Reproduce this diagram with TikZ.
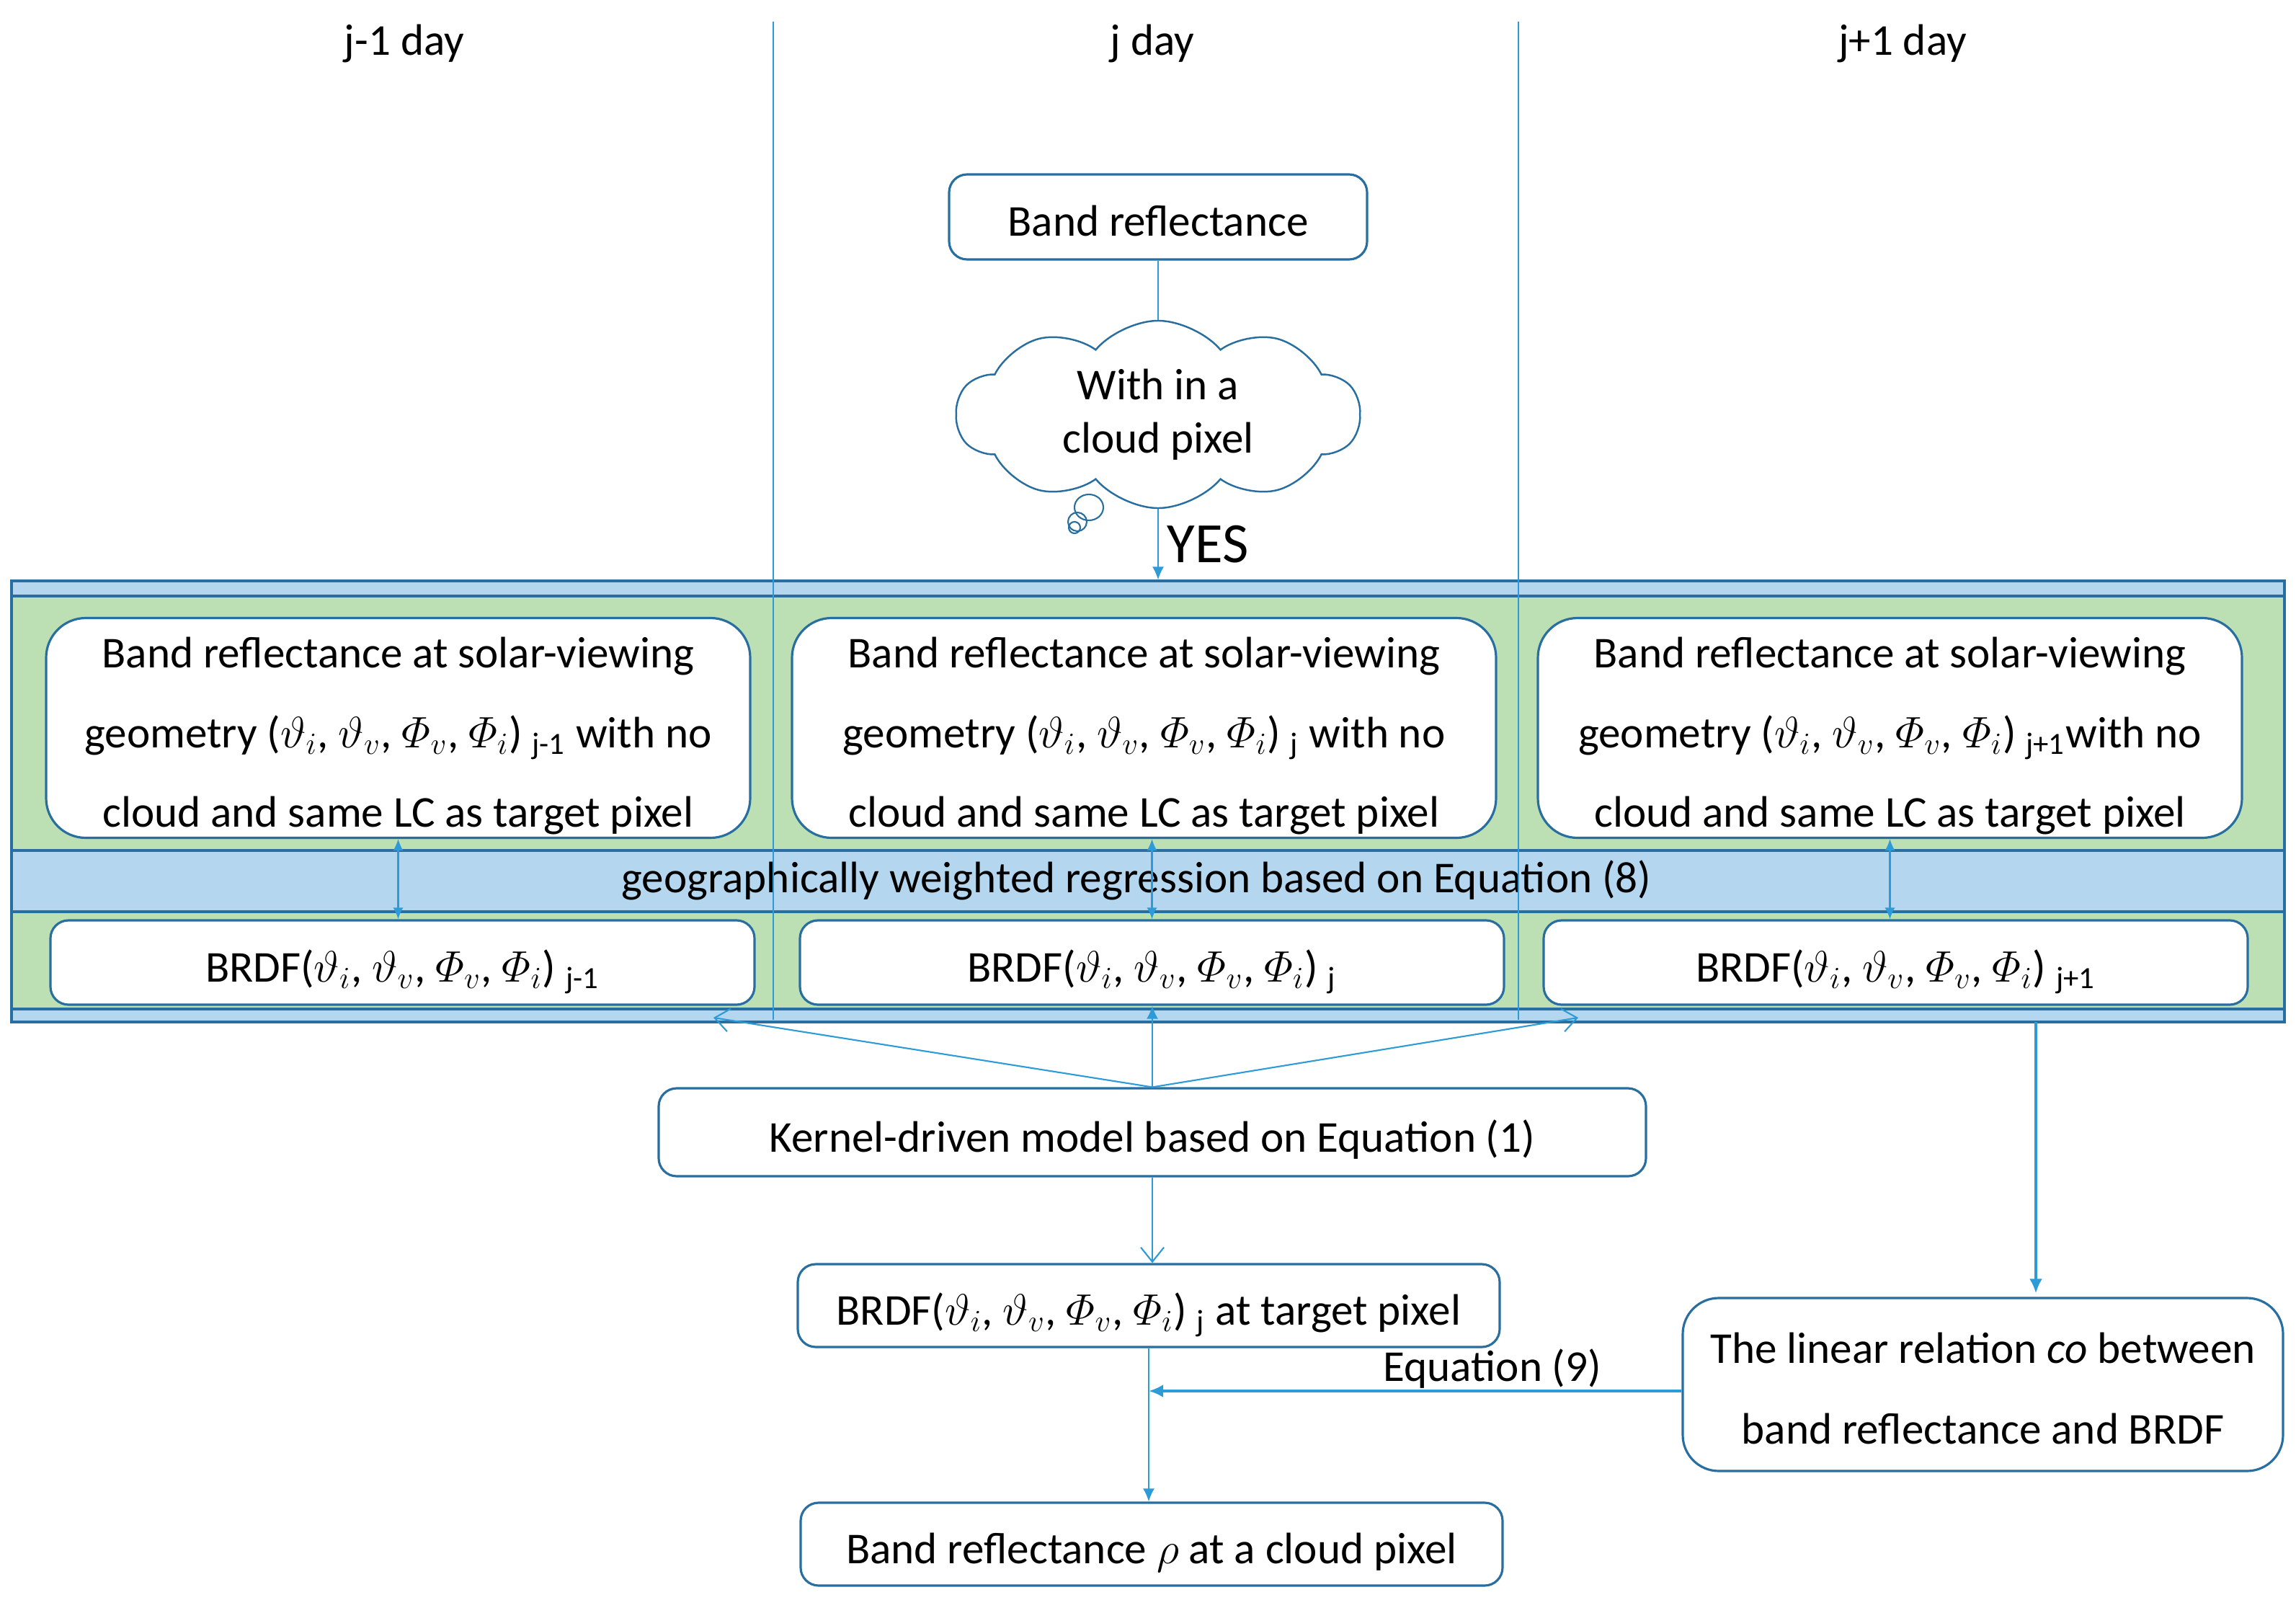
\documentclass[tikz,border=0pt]{standalone}
\usepackage{fix-cm}
\usepackage{amsmath}
\usepackage{fontspec}
\setmainfont{Carlito}
\usepackage{tikz}
\usetikzlibrary{shapes.symbols, arrows.meta}
\definecolor{boxline}{RGB}{40,110,160}
\definecolor{conn}{RGB}{45,155,215}
\definecolor{stripblue}{RGB}{180,214,238}
\definecolor{rowgreen}{RGB}{188,224,180}
\newcommand{\angs}{($\vartheta_i$, $\vartheta_v$, $\varPhi_v$, $\varPhi_i$)}
\newcommand{\lift}[1]{\rule{0pt}{#1}}
\tikzstyle{dayhead} = [rectangle, inner sep=0pt, text centered]
\tikzstyle{bluestrip} =
[rectangle, minimum width=31.54cm, draw=boxline, line width=0.9pt, fill=stripblue]
\tikzstyle{greenrow} =
[rectangle, minimum width=31.54cm, draw=boxline, line width=0.9pt, fill=rowgreen]
\tikzstyle{process} =
[rectangle, rounded corners=0.25cm, minimum height=1.17cm, text centered,
text height=0.70cm, text depth=0.16cm, draw=boxline, line width=0.9pt, fill=white]
\tikzstyle{obsbox} =
[rectangle, rounded corners=0.55cm, minimum width=9.77cm, minimum height=3.05cm,
inner ysep=0pt, align=center, draw=boxline, line width=0.9pt, fill=white,
font=\fontsize{17.4}{31.5}\selectfont]
\tikzstyle{relbox} =
[rectangle, rounded corners=0.5cm, minimum width=8.33cm, minimum height=2.40cm,
align=center, draw=boxline, line width=0.9pt, fill=white,
font=\fontsize{17.4}{31.8}\selectfont]
\tikzstyle{thought} =
[cloud, cloud puffs=10, cloud puff arc=100, cloud ignores aspect, minimum width=5.6cm,
minimum height=2.0cm, align=center, draw=boxline, line width=0.7pt, fill=white]
\tikzstyle{daysep} = [draw=conn, line width=0.5pt]
\tikzstyle{line} = [draw=conn, line width=0.6pt, -{Latex[length=0.18cm, width=0.16cm]}]
\tikzstyle{barb} = [draw=conn, line width=0.6pt, -{Straight Barb[length=0.2cm, width=0.32cm]}]
\tikzstyle{twoway} = [draw=conn, line width=0.6pt,
{Latex[length=0.16cm, width=0.14cm]}-{Latex[length=0.16cm, width=0.14cm]}]
\tikzstyle{heavy} = [draw=conn, line width=1.1pt, -{Latex[length=0.2cm, width=0.18cm]}]
\begin{document}
\begin{tikzpicture}[font=\fontsize{17.4}{21}\selectfont]
  \useasboundingbox (0,0) rectangle (31.86,-22.20);
  % day headers
  \node [dayhead] (dayM) at (15.99,-0.61) {j day};
  \node [dayhead, left of=dayM, node distance=10.38cm] (dayL) {j-1 day};
  \node [dayhead, right of=dayM, node distance=10.41cm] (dayR) {j+1 day};
  % band of the three days
  \node [bluestrip, minimum height=6.12cm] (band) at (15.93,-11.12) {};
  \node [greenrow, minimum height=3.53cm] (rowtop) at (15.93,-10.035) {};
  \node [greenrow, minimum height=1.35cm] (rowbot) at (15.93,-13.325) {};
  \node (gwr) at (15.77,-12.21)
   {geographically weighted regression based on Equation (8)};
  % day separators
  \coordinate (sepA) at (10.73,-0.30);
  \coordinate (sepB) at (21.07,-0.30);
  \path [daysep] (sepA) -- ([yshift=0.05cm]sepA |- band.south);
  \path [daysep] (sepB) -- ([yshift=0.05cm]sepB |- band.south);
  % input on day j
  \node [process, minimum width=5.80cm, minimum height=1.18cm] (br)
   at (16.07,-3.01) {Band reflectance};
  \node [thought, below of=br, node distance=2.74cm] (cloud)
   {With in a\\ cloud pixel};
  \draw [boxline, line width=0.6pt] (15.11,-7.04) ellipse (0.20cm and 0.18cm);
  \draw [boxline, line width=0.6pt] (14.95,-7.24) circle (0.13cm);
  \draw [boxline, line width=0.6pt] (14.91,-7.32) circle (0.08cm);
  \path [draw=conn, line width=0.6pt] (br) -- (cloud);
  \path [line] (cloud.south) -- node [right, pos=0.5, font=\fontsize{22.5}{27}\selectfont]
   (yes) {YES} (cloud.south |- band.north);
  % 1st row nodes
  \node [obsbox] (obsM) at (15.875,-10.10)
   {\lift{0.65cm}Band reflectance at solar-viewing\\
    geometry \angs{} $_{\text{j}}$ with no\\ cloud and same LC as target pixel};
  \node [obsbox, left of=obsM, node distance=10.35cm] (obsL)
   {\lift{0.65cm}Band reflectance at solar-viewing\\
    geometry \angs{} $_{\text{j-1}}$ with no\\ cloud and same LC as target pixel};
  \node [obsbox, right of=obsM, node distance=10.35cm] (obsR)
   {\lift{0.65cm}Band reflectance at solar-viewing\\
    geometry \angs{} $_{\text{j+1}}$with no\\ cloud and same LC as target pixel};
  % 2nd row nodes
  \node [process, minimum width=9.77cm] (brdfM) at (15.985,-13.355)
   {BRDF\angs{} $_{\text{j}}$};
  \node [process, minimum width=9.77cm, left of=brdfM, node distance=10.40cm] (brdfL)
   {BRDF\angs{} $_{\text{j-1}}$};
  \node [process, minimum width=9.77cm, right of=brdfM, node distance=10.32cm] (brdfR)
   {BRDF\angs{} $_{\text{j+1}}$};
  % regression edges
  \path [twoway] (obsL.south) -- (obsL.south |- brdfL.north);
  \path [twoway] (brdfM.north |- obsM.south) -- (brdfM.north);
  \path [twoway] (obsR.south) -- (obsR.south |- brdfR.north);
  % kernel model
  \node [process, minimum width=13.70cm, minimum height=1.22cm] (kernel)
   at (15.99,-15.71) {Kernel-driven model based on Equation (1)};
  \coordinate (tipL) at (9.90,-14.12);
  \coordinate (tipR) at (21.90,-14.12);
  \path [barb] (kernel.north) -- (tipL);
  \path [line] (kernel.north) -- (kernel.north |- brdfM.south);
  \path [barb] (kernel.north) -- (tipR);
  % output nodes
  \node [process, minimum width=9.74cm, minimum height=1.15cm] (target)
   at (15.94,-18.115) {BRDF\angs{} $_{\text{j}}$ at target pixel};
  \node [process, minimum width=9.74cm, minimum height=1.15cm] (rho)
   at (15.98,-21.425) {Band reflectance $\rho$ at a cloud pixel};
  \node [relbox] (linrel) at (27.515,-19.21)
   {\lift{0.53cm}The linear relation \textit{co} between\\ band reflectance and BRDF};
  % output edges
  \path [barb] (kernel.south) -- (kernel.south |- target.north);
  \path [line] (target.south) -- (target.south |- rho.north);
  \coordinate (eqstart) at ([yshift=-0.09cm]linrel.west);
  \path [heavy] (eqstart) -- node [above, pos=0.355, inner sep=0.5pt] (eq9)
   {Equation (9)} (eqstart -| target.south);
  \coordinate (dropR) at (28.25,-14.18);
  \path [heavy] (dropR) -- ([yshift=0.05cm]dropR |- linrel.north);
\end{tikzpicture}
\end{document}
